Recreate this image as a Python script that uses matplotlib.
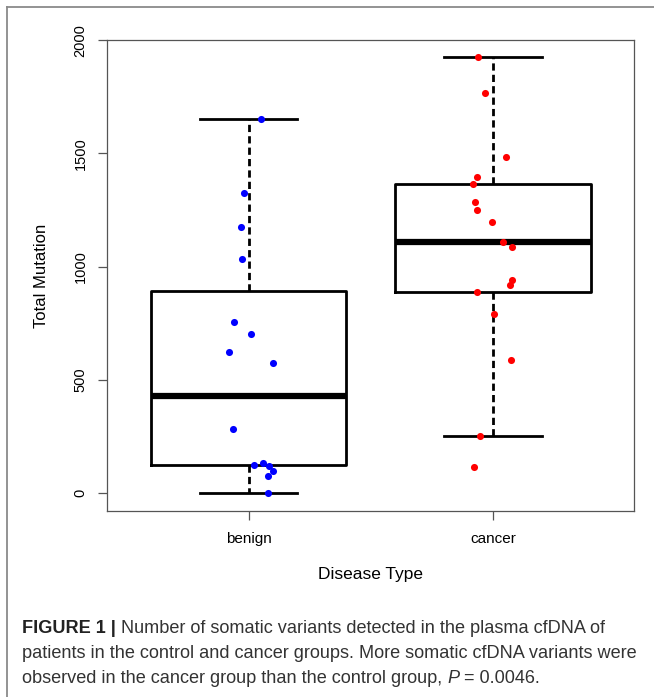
import matplotlib
matplotlib.use('Agg')
import matplotlib.pyplot as plt
import numpy as np
from matplotlib import font_manager
from matplotlib.lines import Line2D

# ---------------- data ----------------
categories = ['benign', 'cancer']
whislo = [0, 253]
q1 = [122, 886]
med = [428, 1107]
q3 = [893, 1363]
whishi = [1651, 1926]

benign_values = [1651, 1326, 1173, 1033, 756, 703, 622, 575, 283, 125, 131, 121, 97, 77, 0]
benign_jitter = [0.052, -0.020, -0.031, -0.027, -0.058, 0.010, -0.079, 0.099, -0.065,
                 0.021, 0.061, 0.083, 0.101, 0.080, 0.079]
cancer_values = [1926, 1769, 1483, 1396, 1363, 1285, 1248, 1198, 1107, 1087, 939, 920,
                 887, 790, 586, 253, 115]
cancer_jitter = [-0.061, -0.034, 0.054, -0.067, -0.083, -0.074, -0.065, -0.004, 0.041,
                 0.076, 0.076, 0.070, -0.065, 0.004, 0.074, -0.054, -0.076]

yticks = [0, 500, 1000, 1500, 2000]
xlabel = 'Disease Type'
ylabel = 'Total Mutation'

caption_lines = [
    [('FIGURE 1 |', 'bold', 'normal'), ('Number of somatic variants detected in the plasma cfDNA of', 'normal', 'normal')],
    [('patients in the control and cancer groups. More somatic cfDNA variants were', 'normal', 'normal')],
    [('observed in the cancer group than the control group,', 'normal', 'normal'), ('P', 'normal', 'italic'),
     ('= 0.0046.', 'normal', 'normal')],
]

# ---------------- figure ----------------
W, H = 654, 697
fig = plt.figure(figsize=(W / 100, H / 100), dpi=100)
fig.patch.set_facecolor('white')
chart_font = 'Liberation Sans'

ax = fig.add_axes([107 / W, 1 - 511 / H, (634 - 107) / W, (511 - 40) / H])

stats = []
for i, c in enumerate(categories):
    stats.append(dict(label=c, whislo=whislo[i], q1=q1[i], med=med[i], q3=q3[i],
                      whishi=whishi[i], fliers=[]))

ax.bxp(stats, positions=[1, 2], widths=0.8, capwidths=0.4, showfliers=False,
       boxprops=dict(color='black', linewidth=2.0),
       medianprops=dict(color='black', linewidth=4.5, solid_capstyle='butt'),
       whiskerprops=dict(color='black', linewidth=2.0, linestyle=(0, (2.6, 1.5))),
       capprops=dict(color='black', linewidth=2.0))

ax.scatter(1 + np.array(benign_jitter), benign_values, s=26, color='#0000ff', linewidths=0, zorder=5)
ax.scatter(2 + np.array(cancer_jitter), cancer_values, s=26, color='#ff0000', linewidths=0, zorder=5)

ax.set_xlim(0.421, 2.577)
ax.set_ylim(-79.5, 2001)
ax.set_yticks(yticks)
ax.set_yticklabels([str(v) for v in yticks], fontsize=10.5, family=chart_font, rotation=90)
for lab in ax.get_yticklabels():
    lab.set_va('center')
ax.set_xticks([1, 2])
ax.set_xticklabels(categories, fontsize=11, family=chart_font)

for sp in ax.spines.values():
    sp.set_color('#555555')
    sp.set_linewidth(0.9)
ax.tick_params(axis='y', length=6.5, width=0.9, color='#555555', pad=7.5)
ax.tick_params(axis='x', length=6.5, width=0.9, color='#555555', pad=8.5)

ax.set_xlabel(xlabel, fontsize=12.5, family=chart_font)
ax.xaxis.set_label_coords(0.5, (511 - 575) / 471)
ax.xaxis.label.set_va('center')
ax.set_ylabel(ylabel, fontsize=12, family=chart_font)
ax.yaxis.set_label_coords((41 - 107) / 527, 0.5)
ax.yaxis.label.set_va('center')

# outer frame
fc = '#8a8a8a'
fig.add_artist(Line2D([7 / W, 7 / W], [0, 1 - 7 / H], transform=fig.transFigure, color=fc, lw=1.3))
fig.add_artist(Line2D([7 / W, 1], [1 - 7 / H, 1 - 7 / H], transform=fig.transFigure, color=fc, lw=1.3))

# caption
names = {f.name for f in font_manager.fontManager.ttflist}
cap_font = 'Liberation Sans Narrow' if 'Liberation Sans Narrow' in names else 'Liberation Sans'
renderer = fig.canvas.get_renderer()


def text_width(s, fs, weight='normal', style='normal'):
    t = fig.text(0, 0, s, fontsize=fs, family=cap_font, weight=weight, style=style)
    w = t.get_window_extent(renderer).width
    t.remove()
    return w


fs0 = 10
w0 = text_width(caption_lines[1][0][0], fs0)
cap_fs = fs0 * 618 / w0
space_w = text_width('x x', cap_fs) - text_width('xx', cap_fs)

baselines = [633, 658, 683]
for line, yb in zip(caption_lines, baselines):
    x = 22
    for j, (s, weight, style) in enumerate(line):
        col = '#222222' if weight == 'bold' else '#333333'
        t = fig.text(x / W, 1 - yb / H, s, fontsize=cap_fs, family=cap_font, weight=weight,
                     style=style, color=col, va='baseline', ha='left')
        x += t.get_window_extent(renderer).width + space_w

fig.savefig('out.png', dpi=100, facecolor='white')
